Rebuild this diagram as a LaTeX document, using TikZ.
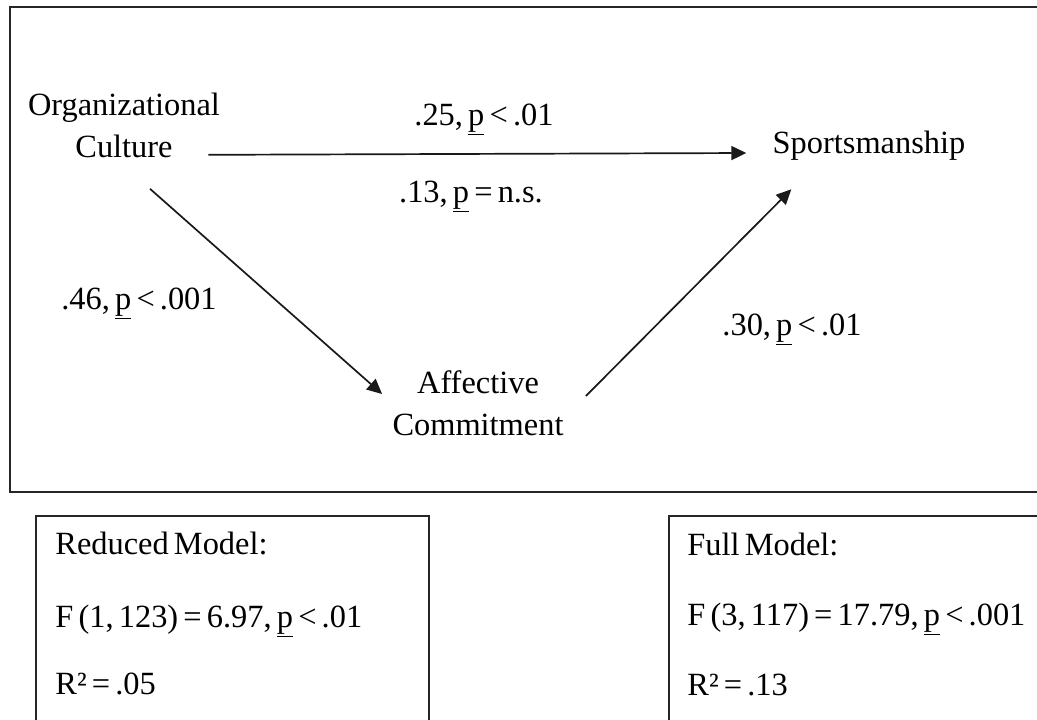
\documentclass[tikz,border=0pt]{standalone}
\usepackage{fontspec}
\setmainfont{Liberation Serif}
\usetikzlibrary{arrows.meta, positioning, calc}
\newcommand{\figfont}{\fontsize{16.2}{21}\selectfont\spaceskip=0.16em\relax}
\tikzset{
  var/.style={inner sep=0pt, align=center, font=\figfont},
  coef/.style={inner sep=0pt, anchor=base, font=\figfont},
  stat/.style={inner sep=0pt, anchor=base west, font=\figfont},
  arrow/.style={-{Triangle[length=7.5pt, width=7pt]}, line width=0.85pt, black!90},
  sbox/.style={line width=0.85pt, black!85},
}

\begin{document}
\begin{tikzpicture}[x=0.5pt, y=-0.5pt]
\clip (0,0) rectangle (1037,719);
\fill[white] (0,0) rectangle (1037,719);

% --- Frame ---
\draw[sbox] (10,7) rectangle (1050,492);

% --- Variables ---
\node[var] (orgc) at (124,125) {Organizational\\Culture};
\node[var, anchor=base] (sport) at (869,153) {Sportsmanship};
\node[var] (affc) at (478,403) {Affective\\Commitment};

% --- Paths ---
\draw[arrow] ($(orgc.south east)+(-12,-3)$) -- ($(sport.base west)+(-26,0)$);
\draw[arrow] ($(orgc.south)+(26,31)$) -- ($(affc.west)+(-10,-9)$);
\draw[arrow] ($(affc.east)+(22,-7)$) -- ($(sport.south west)+(19,29)$);

% --- Coefficients ---
\node[coef] (c25) at (484,125) {.25, \underline{p} < .01};
\node[coef] (c13) at (471,202) {.13, \underline{p} = n.s.};
\node[coef] (c46) at (139,309) {.46, \underline{p} < .001};
\node[coef] (c30) at (792,335) {.30, \underline{p} < .01};

% --- Model statistics ---
\draw[sbox] (36,516) rectangle (429,740);
\node[stat] (redt) at (55,554) {Reduced Model:};
\node[stat] (redf) at (55,627) {F (1, 123) = 6.97, \underline{p} < .01};
\node[stat] (redr) at (55,694) {R² = .05};

\draw[sbox] (669,516) rectangle (1050,740);
\node[stat] (fullt) at (687,555) {Full Model:};
\node[stat] (fullf) at (687,625) {F (3, 117) = 17.79, \underline{p} < .001};
\node[stat] (fullr) at (687,695) {R² = .13};

\end{tikzpicture}
\end{document}
